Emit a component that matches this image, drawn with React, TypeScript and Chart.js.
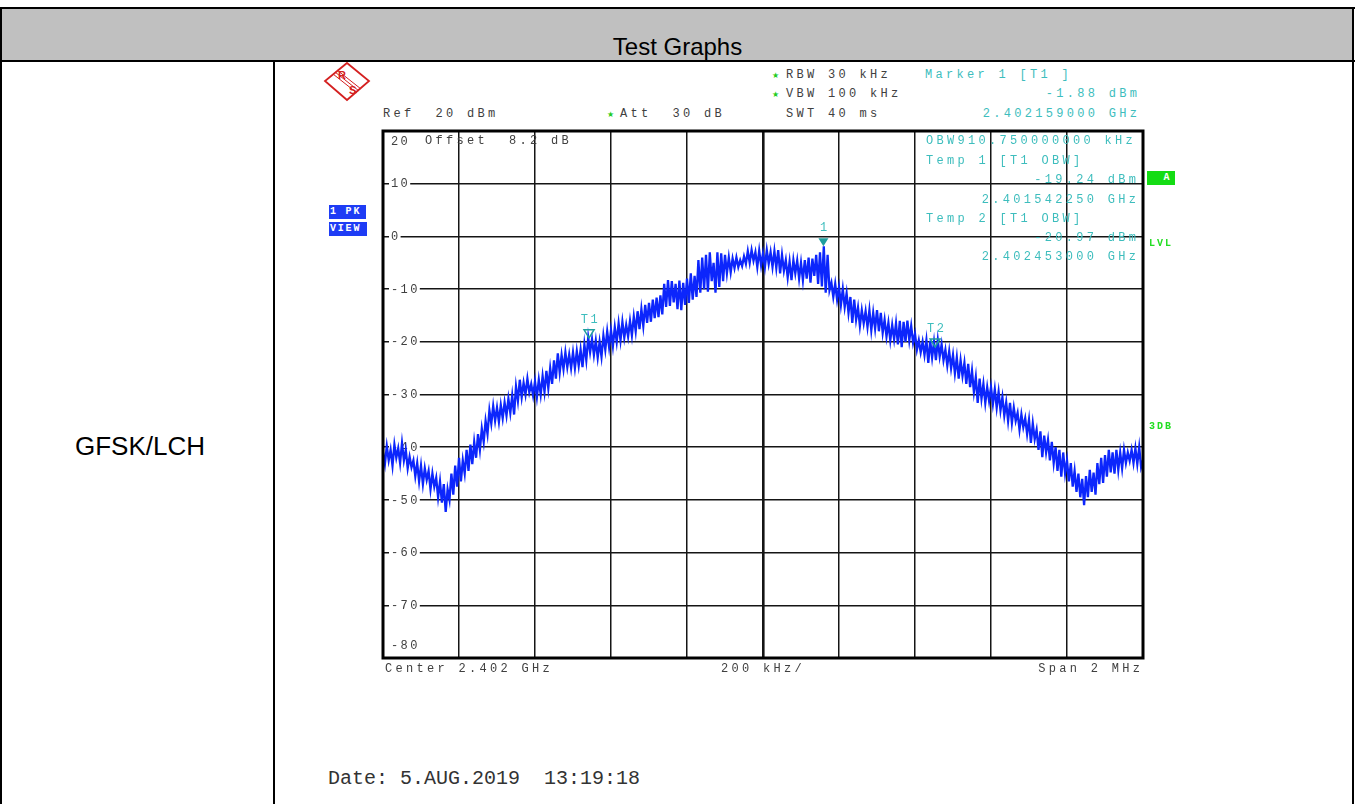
import React, { useEffect, useRef } from "react";
import { Chart, registerables } from "chart.js";

Chart.register(...registerables);

// ---- data ----
const sweepStartKHz = -1000; // offset from centre 2.402 GHz
const sweepStepKHz = 5;
const traceLevels = [
  -41, -43.2, -39.8, -42.5, -40.5, -43.5, -39.5, -42, -40.2, -43,
  -39.2, -42.5, -40.5, -44, -41.8, -43.8, -42.5, -45.5, -43, -46.5,
  -43.5, -47, -44, -46.2, -44.5, -48, -45, -47.5, -45.8, -49.5,
  -46.5, -50.5, -47, -52.3, -48, -50, -45, -49, -43.5, -47.5,
  -42, -46.5, -42.5, -45, -40.5, -44.5, -39.5, -43.2, -39, -42,
  -37.5, -40.5, -36.5, -39, -35, -37.5, -33, -35.5, -32.2, -35,
  -32.5, -35.2, -32, -34.5, -31.5, -34, -30.8, -33.5, -30.2, -33.8,
  -28.5, -31.2, -27.2, -30.5, -27.8, -30, -27, -29.6, -28, -30.2,
  -27.5, -30.5, -27.2, -30, -26.5, -29.5, -25.5, -28.8, -25, -28,
  -23.5, -27, -22.2, -25.8, -22.5, -25.2, -22, -24.8, -22.4, -25,
  -22, -25, -21.8, -24.5, -21.5, -24.8, -20.5, -23.5, -19.2, -22,
  -19.5, -22.5, -19.8, -23, -20, -22.8, -18.8, -21.5, -18, -21,
  -17.8, -20.8, -17.2, -20, -16.5, -19.7, -16.2, -19.2, -16.8, -19,
  -16, -18.8, -15.2, -18, -14.2, -17.6, -13.8, -17, -13, -16.4,
  -12.6, -16.2, -12, -15.5, -11.6, -15.3, -11.2, -14.8, -9, -13.4,
  -8.3, -13.2, -8.5, -12.5, -9, -13.8, -8.4, -14, -8.8, -13,
  -8, -12.6, -7, -12, -7.5, -11.5, -4.5, -10.7, -4, -10,
  -3.5, -10.5, -3, -8.5, -5, -10.7, -3, -9.6, -3.2, -8.5,
  -3.5, -7, -4, -6.8, -4.2, -6, -4, -5.8, -4.5, -5.6,
  -3.8, -5.2, -2.8, -5, -2.6, -4.6, -3, -5.8, -2.7, -5.5,
  -3.2, -5.8, -2.6, -5.2, -3, -5.8, -2.8, -6, -2.6, -7,
  -3.5, -6.5, -4.5, -7.8, -4.8, -8.3, -4.5, -7, -4.6, -8,
  -5, -8.3, -4.5, -8, -4, -8.8, -4.2, -7.5, -3.5, -9,
  -3, -9.5, -1.9, -10.7, -3.5, -10.2, -8.8, -11.5, -9, -12,
  -9.6, -13, -10, -13.4, -10.8, -14.5, -11.5, -16.4, -12, -15.8,
  -13.5, -17, -14, -16.5, -14.2, -17.2, -14, -17.8, -14.5, -17.5,
  -14, -18, -14.5, -18.3, -15.8, -19, -16.4, -19.7, -16.8, -19.5,
  -16.5, -20.5, -16, -21, -16.2, -20, -16, -19.7, -17, -20.2,
  -18.5, -21.5, -19.7, -22, -20, -22.5, -19.7, -24, -19.8, -23,
  -20, -23.5, -19.7, -22.8, -20.5, -23.5, -21.5, -24.5, -21.8, -25,
  -22.5, -26, -23, -27, -23.5, -26.5, -24, -28, -24.2, -28.6,
  -25.5, -29.5, -26.7, -31.6, -27, -30.8, -28, -31.6, -28.6, -31.2,
  -28.6, -31.8, -29, -32.5, -29.5, -33, -30.5, -34, -31.5, -35,
  -31.6, -35.4, -32.5, -35, -33.5, -36.7, -33.8, -36.2, -34.5, -37.5,
  -34.8, -39.2, -35.5, -38.5, -36.7, -40.5, -37, -41.9, -37.8, -41,
  -38.6, -42.5, -39, -43, -40, -44.5, -40.5, -45.6, -41, -45,
  -42.5, -46.5, -43, -47.5, -44.5, -48.5, -45, -49.5, -46, -51,
  -45.5, -49.5, -44.3, -48.5, -44.8, -49, -43, -47, -42, -46.8,
  -41.5, -45.6, -40.5, -44.8, -41, -45, -40.5, -44.3, -41, -44,
  -40.5, -43, -41, -42.6, -40.5, -43, -40.2, -43.2, -40, -43.8,
  -42.5,
];
const yTickValues = [20, 10, 0, -10, -20, -30, -40, -50, -60, -70, -80];
const yTickLabels = ["20", "10", "0", "-10", "-20", "-30", "-40", "-50", "-60", "-70", "-80"];
const markerNames = ["1", "T1", "T2"];
const markerFreqsKHz = [159, -457.75, 453];
const markerLevels = [-1.88, -19.24, -20.97];

const TEAL = "#3dbdbd";
const MARKER_TEAL = "#1f9e9e";
const GRAY_TEXT = "#404040";
const MONO = '"Liberation Mono", "DejaVu Sans Mono", monospace';

const overlayPlugin = {
  id: "saOverlay",
  beforeDatasetsDraw(chart: any) {
    const { ctx, chartArea: a, scales } = chart;
    const ys = scales.y;
    ctx.save();
    ctx.font = `12px ${MONO}`;
    try { (ctx as any).letterSpacing = "2.4px"; } catch (e) {}
    ctx.textBaseline = "middle";
    ctx.textAlign = "left";
    yTickValues.forEach((v, i) => {
      const label = yTickLabels[i];
      let py = ys.getPixelForValue(v);
      const w = ctx.measureText(label).width;
      if (v === ys.max) py += 10;
      else if (v === ys.min) py -= 13;
      else {
        ctx.fillStyle = "#fff";
        ctx.fillRect(a.left + 6, py - 2.5, w + 2, 5);
      }
      ctx.fillStyle = GRAY_TEXT;
      ctx.fillText(label, a.left + 8, py + 0.5);
    });
    ctx.restore();
  },
  afterDatasetsDraw(chart: any) {
    const { ctx, chartArea: a, scales } = chart;
    ctx.save();
    ctx.strokeStyle = "#000";
    ctx.lineWidth = 3;
    ctx.strokeRect(a.left, a.top, a.right - a.left, a.bottom - a.top);
    ctx.font = `12px ${MONO}`;
    try { (ctx as any).letterSpacing = "2.5px"; } catch (e) {}
    ctx.textAlign = "center";
    ctx.textBaseline = "middle";
    markerFreqsKHz.forEach((f, i) => {
      const px = scales.x.getPixelForValue(f);
      const py = scales.y.getPixelForValue(markerLevels[i]);
      ctx.beginPath();
      ctx.moveTo(px, py);
      ctx.lineTo(px - 5, py - 8);
      ctx.lineTo(px + 5, py - 8);
      ctx.closePath();
      if (i === 0) {
        ctx.fillStyle = MARKER_TEAL;
        ctx.fill();
      } else {
        ctx.strokeStyle = MARKER_TEAL;
        ctx.lineWidth = 1.5;
        ctx.stroke();
      }
      ctx.fillStyle = TEAL;
      ctx.fillText(markerNames[i], px + 1.5, py - 18);
    });
    ctx.restore();
  },
};

function Txt(props: {
  x: number; y: number; children: any; color?: string; right?: boolean;
  size?: number; ls?: number; bold?: boolean; family?: string;
}) {
  const { x, y, children, color = GRAY_TEXT, right = false, size = 12, ls = 3.3, bold = false, family = MONO } = props;
  const style: React.CSSProperties = {
    position: "absolute",
    top: y - 8,
    lineHeight: "16px",
    height: 16,
    fontSize: size,
    letterSpacing: ls,
    color,
    fontFamily: family,
    whiteSpace: "pre",
    fontWeight: bold ? "bold" : "normal",
  };
  if (right) style.right = 1355 - x - ls;
  else style.left = x;
  return <div style={style}>{children}</div>;
}

function Star(props: { x: number; y: number }) {
  return (
    <div style={{ position: "absolute", left: props.x - 4, top: props.y - 6, fontSize: 8, lineHeight: "12px", color: "#22cc22", fontFamily: "DejaVu Sans" }}>★</div>
  );
}

function Box(props: { x: number; y: number; w: number; h: number; bg: string; children: any; fs?: number; ls?: number }) {
  return (
    <div style={{
      position: "absolute", left: props.x, top: props.y, width: props.w, height: props.h, background: props.bg,
      color: "#fff", fontFamily: MONO, fontWeight: "bold", fontSize: props.fs || 10, letterSpacing: props.ls ?? 1.8,
      lineHeight: props.h + "px", whiteSpace: "pre", paddingLeft: 1, boxSizing: "border-box",
    }}>{props.children}</div>
  );
}

export default function App() {
  const canvasRef = useRef<HTMLCanvasElement | null>(null);

  useEffect(() => {
    if (!canvasRef.current) return;
    const points = traceLevels.map((v, i) => ({ x: sweepStartKHz + i * sweepStepKHz, y: v }));
    const gridWidth = (c: any) => (c.tick && c.tick.value === 0 ? 2.6 : 1.5);
    const chart = new Chart(canvasRef.current, {
      type: "line",
      data: {
        datasets: [
          {
            data: points,
            borderColor: "rgb(12,38,252)",
            borderWidth: 2.3,
            pointRadius: 0,
            tension: 0,
            fill: false,
          },
        ],
      },
      options: {
        animation: false,
        responsive: false,
        maintainAspectRatio: false,
        events: [],
        layout: { padding: 10 },
        plugins: { legend: { display: false }, tooltip: { enabled: false } },
        scales: {
          x: {
            type: "linear",
            min: -1000,
            max: 1000,
            ticks: { display: false, stepSize: 200 },
            grid: { drawTicks: false, color: "#151515", lineWidth: gridWidth },
            border: { display: false },
          },
          y: {
            type: "linear",
            min: -80,
            max: 20,
            ticks: { display: false, stepSize: 10 },
            grid: { drawTicks: false, color: "#151515", lineWidth: 1.5 },
            border: { display: false },
          },
        },
      },
      plugins: [overlayPlugin],
    } as any);
    return () => chart.destroy();
  }, []);

  return (
    <div style={{ position: "absolute", left: 0, top: 0, width: 1355, height: 804, background: "#fff", overflow: "hidden" }}>
      {/* table frame */}
      <div style={{ position: "absolute", left: 2, top: 9, width: 1350, height: 51, background: "#c0c0c0" }} />
      <div style={{ position: "absolute", left: 0, top: 7, width: 1355, height: 2, background: "#000" }} />
      <div style={{ position: "absolute", left: 0, top: 60, width: 1355, height: 2, background: "#000" }} />
      <div style={{ position: "absolute", left: 0, top: 7, width: 2, height: 797, background: "#000" }} />
      <div style={{ position: "absolute", left: 1352, top: 7, width: 2, height: 797, background: "#000" }} />
      <div style={{ position: "absolute", left: 273, top: 60, width: 2, height: 744, background: "#000" }} />
      <div style={{ position: "absolute", left: 0, top: 33, width: 1355, textAlign: "center", fontFamily: '"Liberation Sans", Arial, sans-serif', fontSize: 24, lineHeight: "28px", color: "#000" }}>Test Graphs</div>
      <div style={{ position: "absolute", left: 0, top: 432, width: 280, textAlign: "center", fontFamily: '"Liberation Sans", Arial, sans-serif', fontSize: 26, lineHeight: "28px", color: "#000" }}>GFSK/LCH</div>

      {/* R&S logo */}
      <svg style={{ position: "absolute", left: 322, top: 60 }} width={52} height={44} viewBox="0 0 52 44">
        <polygon points="25,3 47,21 25,40 3,21" fill="#fff" stroke="#d42020" strokeWidth={1.8} />
        <line x1="13" y1="12" x2="37" y2="31" stroke="#d42020" strokeWidth={1} />
        <line x1="15" y1="10" x2="39" y2="29" stroke="#d42020" strokeWidth={1} />
        <line x1="11" y1="14" x2="35" y2="33" stroke="#d42020" strokeWidth={1} />
        <text x="16" y="19" fill="#d42020" fontSize="11" fontWeight="bold" fontFamily="Liberation Sans">R</text>
        <text x="27" y="34" fill="#d42020" fontSize="11" fontWeight="bold" fontFamily="Liberation Sans">S</text>
      </svg>

      {/* instrument header texts */}
      <Star x={776} y={76} />
      <Star x={776} y={95} />
      <Star x={611} y={115} />
      <Txt x={786} y={75}>RBW 30 kHz</Txt>
      <Txt x={786} y={94}>VBW 100 kHz</Txt>
      <Txt x={786} y={114}>SWT 40 ms</Txt>
      <Txt x={383} y={114}>Ref  20 dBm</Txt>
      <Txt x={620} y={114}>Att  30 dB</Txt>
      <Txt x={925} y={75} color={TEAL}>Marker 1 [T1 ]</Txt>
      <Txt x={1137} y={94} color={TEAL} right>-1.88 dBm</Txt>
      <Txt x={1137} y={114} color={TEAL} right>2.402159000 GHz</Txt>

      <canvas ref={canvasRef} width={780} height={547} style={{ position: "absolute", left: 373, top: 121, width: 780, height: 547, display: "block" }} />

      {/* texts inside the plot (no background) */}
      <Txt x={425} y={141}>Offset  8.2 dB</Txt>
      <Txt x={926} y={141} color={TEAL}>OBW910.750000000 kHz</Txt>
      <Txt x={926} y={161} color={TEAL}>Temp 1 [T1 OBW]</Txt>
      <Txt x={1136} y={180} color={TEAL} right>-19.24 dBm</Txt>
      <Txt x={1136} y={200} color={TEAL} right>2.401542250 GHz</Txt>
      <Txt x={926} y={219} color={TEAL}>Temp 2 [T1 OBW]</Txt>
      <Txt x={1136} y={238} color={TEAL} right>-20.97 dBm</Txt>
      <Txt x={1136} y={257} color={TEAL} right>2.402453000 GHz</Txt>

      {/* side badges */}
      <Box x={329} y={205} w={37} h={14} bg="#1e3cf5">{"1 PK"}</Box>
      <Box x={329} y={222} w={38} h={14} bg="#1e3cf5">VIEW</Box>
      <Box x={1147} y={171} w={28} h={14} bg="#14dc14">{"  A"}</Box>
      <Txt x={1149} y={244} color="#22dd22" size={10} ls={2} bold>LVL</Txt>
      <Txt x={1149} y={427} color="#22dd22" size={10} ls={2} bold>3DB</Txt>

      {/* footer texts */}
      <Txt x={385} y={669}>Center 2.402 GHz</Txt>
      <Txt x={721} y={669}>200 kHz/</Txt>
      <Txt x={1140} y={669} right>Span 2 MHz</Txt>
      <Txt x={328} y={779} size={20} ls={0} color="#333">Date: 5.AUG.2019  13:19:18</Txt>
    </div>
  );
}
